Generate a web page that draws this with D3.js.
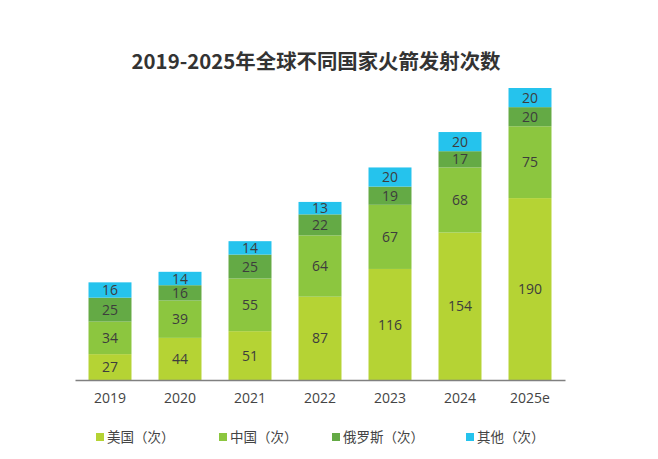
<!DOCTYPE html>
<html lang="zh">
<head>
<meta charset="UTF-8">
<title>2019-2025年全球不同国家火箭发射次数</title>
<script src="https://d3js.org/d3.v7.min.js"></script>
<style>
  body { margin: 0; background: #fff; font-family: "Noto Sans CJK SC", "Noto Sans", sans-serif; }
  .title { font-size: 20.4px; font-weight: bold; fill: #333; }
  .seg-label { font-size: 14px; fill: #3d3d3d; text-anchor: middle; font-family: "Open Sans", "Noto Sans CJK SC", sans-serif; }
  .tick text { font-size: 14px; fill: #444; font-family: "Open Sans", "Noto Sans CJK SC", sans-serif; }
  .legend text { font-size: 13.5px; fill: #444; }
</style>
</head>
<body>
<script>
const years = ["2019", "2020", "2021", "2022", "2023", "2024", "2025e"];
const seriesNames = ["美国（次）", "中国（次）", "俄罗斯（次）", "其他（次）"];
const usa = [27, 44, 51, 87, 116, 154, 190];
const china = [34, 39, 55, 64, 67, 68, 75];
const russia = [25, 16, 25, 22, 19, 17, 20];
const others = [16, 14, 14, 13, 20, 20, 20];
const colors = ["#b5d334", "#8cc63f", "#64aa45", "#25c3ed"];

const W = 658, H = 459;
const svg = d3.select("body").append("svg").attr("width", W).attr("height", H);

const rows = years.map((y, i) => ({ year: y, s0: usa[i], s1: china[i], s2: russia[i], s3: others[i] }));
const keys = ["s0", "s1", "s2", "s3"];
const stacked = d3.stack().keys(keys)(rows);

const x = d3.scaleBand().domain(years).range([75, 565]).paddingInner(0.386).paddingOuter(0.193);
const y = d3.scaleLinear().domain([0, 305]).range([380, 88]);

svg.append("text").attr("class", "title")
  .attr("x", 316).attr("y", 69).attr("text-anchor", "middle")
  .text("2019-2025年全球不同国家火箭发射次数");

const layer = svg.selectAll(".layer").data(stacked).enter().append("g")
  .attr("fill", (d, i) => colors[i]);

layer.selectAll("rect").data(d => d).enter().append("rect")
  .attr("x", d => x(d.data.year))
  .attr("width", x.bandwidth())
  .attr("y", d => y(d[1]))
  .attr("height", d => y(d[0]) - y(d[1]));

layer.selectAll("text").data(d => d.map(v => ({ v, key: d.key }))).enter().append("text")
  .attr("class", "seg-label")
  .attr("x", d => x(d.v.data.year) + x.bandwidth() / 2)
  .attr("y", d => (y(d.v[0]) + y(d.v[1])) / 2)
  .attr("dy", "0.36em")
  .text(d => d.v.data[d.key]);

const axis = svg.append("g").attr("transform", "translate(0,380)")
  .call(d3.axisBottom(x).tickSize(0).tickPadding(13));
axis.select(".domain").attr("stroke", "#808080").attr("stroke-width", 1.5);

const legendX = [96, 219, 332, 466];
const legend = svg.selectAll(".legend").data(seriesNames).enter().append("g")
  .attr("class", "legend")
  .attr("transform", (d, i) => `translate(${legendX[i]},437)`);
legend.append("rect").attr("x", 0).attr("y", -4).attr("width", 8).attr("height", 8)
  .attr("fill", (d, i) => colors[i]);
legend.append("text").attr("x", 11).attr("dy", "0.36em").text(d => d);
</script>
</body>
</html>
